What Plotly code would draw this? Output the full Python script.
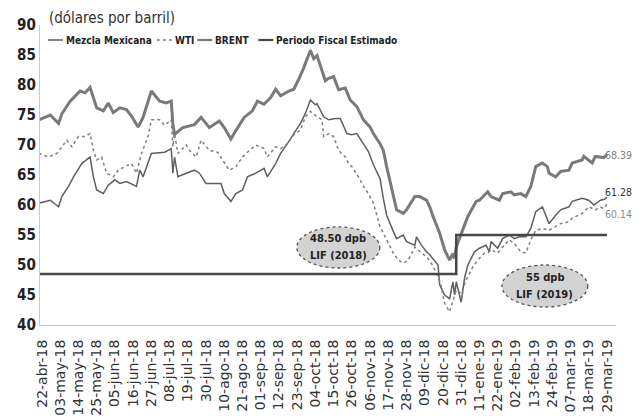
import plotly.graph_objects as go

# ---------------- data ----------------
brent_dates = ["2018-04-20","2018-04-24","2018-04-27","2018-05-02","2018-05-04","2018-05-09","2018-05-15","2018-05-18",
 "2018-05-21","2018-05-25","2018-05-29","2018-06-01","2018-06-04","2018-06-08","2018-06-12","2018-06-15","2018-06-19",
 "2018-06-22","2018-06-27","2018-07-02","2018-07-06","2018-07-09","2018-07-10","2018-07-11","2018-07-16","2018-07-23",
 "2018-07-27","2018-08-01","2018-08-07","2018-08-10","2018-08-14","2018-08-17","2018-08-22","2018-08-27","2018-08-30",
 "2018-09-03","2018-09-07","2018-09-10","2018-09-13","2018-09-18","2018-09-21","2018-09-24","2018-09-27","2018-10-01",
 "2018-10-03","2018-10-05","2018-10-10","2018-10-12","2018-10-15","2018-10-18","2018-10-22","2018-10-25","2018-10-29",
 "2018-10-31","2018-11-02","2018-11-06","2018-11-08","2018-11-12","2018-11-14","2018-11-16","2018-11-20","2018-11-22",
 "2018-11-26","2018-11-28","2018-12-03","2018-12-06","2018-12-10","2018-12-12","2018-12-14","2018-12-18","2018-12-21",
 "2018-12-24","2018-12-26","2018-12-27","2018-12-28","2018-12-31","2019-01-04","2019-01-09","2019-01-11","2019-01-16",
 "2019-01-18","2019-01-23","2019-01-25","2019-01-30","2019-02-01","2019-02-05","2019-02-08","2019-02-11","2019-02-14",
 "2019-02-18","2019-02-21","2019-02-22","2019-02-26","2019-03-01","2019-03-06","2019-03-08","2019-03-14","2019-03-15",
 "2019-03-20","2019-03-22","2019-03-27","2019-03-29"]
brent_values = [74.2,74.7,75.0,73.6,75.2,77.3,79.0,78.7,
 79.6,76.2,75.7,77.0,75.4,76.2,75.9,74.8,73.0,
 74.6,79.0,77.3,77.0,77.3,73.4,71.8,72.9,73.4,
 74.6,72.9,74.0,72.9,71.0,72.4,74.6,75.7,77.3,
 76.8,77.9,79.3,78.2,79.0,79.3,81.0,82.9,85.8,
 84.4,84.9,80.7,81.1,81.4,79.2,79.5,77.5,76.4,
 75.3,74.2,73.0,71.9,70.2,69.1,66.4,61.9,59.2,
 58.6,59.2,61.4,61.4,60.8,59.7,58.1,55.3,52.5,
 50.8,51.9,51.1,53.0,55.3,58.1,60.6,60.8,62.2,
 61.4,60.8,61.9,62.2,61.7,61.9,61.4,63.1,66.4,
 67.0,66.4,65.3,64.7,65.6,65.8,67.0,67.5,68.1,
 67.0,68.1,67.9,68.39]

wti_dates = ["2018-04-20","2018-04-26","2018-05-01","2018-05-04","2018-05-07","2018-05-10","2018-05-14","2018-05-18",
 "2018-05-21","2018-05-23","2018-05-25","2018-05-28","2018-05-31","2018-06-04","2018-06-07","2018-06-11","2018-06-15",
 "2018-06-18","2018-06-21","2018-06-25","2018-06-27","2018-07-02","2018-07-05","2018-07-09","2018-07-10","2018-07-11",
 "2018-07-13","2018-07-18","2018-07-20","2018-07-24","2018-07-27","2018-08-01","2018-08-06","2018-08-09","2018-08-13",
 "2018-08-17","2018-08-21","2018-08-24","2018-08-29","2018-09-03","2018-09-05","2018-09-10","2018-09-13","2018-09-17",
 "2018-09-21","2018-09-25","2018-09-28","2018-10-01","2018-10-05","2018-10-08","2018-10-09","2018-10-12","2018-10-15",
 "2018-10-18","2018-10-22","2018-10-24","2018-10-26","2018-10-30","2018-11-02","2018-11-05","2018-11-08","2018-11-12",
 "2018-11-14","2018-11-16","2018-11-20","2018-11-23","2018-11-26","2018-11-29","2018-12-03","2018-12-07","2018-12-10",
 "2018-12-13","2018-12-17","2018-12-19","2018-12-21","2018-12-24","2018-12-26","2018-12-28","2018-12-31","2019-01-03",
 "2019-01-07","2019-01-10","2019-01-14","2019-01-16","2019-01-18","2019-01-22","2019-01-25","2019-01-29","2019-02-01",
 "2019-02-05","2019-02-08","2019-02-11","2019-02-14","2019-02-18","2019-02-22","2019-02-26","2019-03-01","2019-03-06",
 "2019-03-08","2019-03-14","2019-03-18","2019-03-22","2019-03-25","2019-03-27","2019-03-29"]
wti_values = [68.6,68.0,68.6,69.7,70.8,69.7,71.4,71.4,
 71.9,69.1,67.5,68.0,65.3,64.7,65.8,66.4,66.9,
 65.3,68.6,71.4,74.2,74.2,73.3,74.2,69.7,71.9,
 68.6,70.0,69.1,68.0,70.8,69.1,68.8,67.5,65.8,
 66.4,68.0,68.8,70.0,69.4,68.0,69.7,69.4,70.2,
 71.7,72.5,74.7,75.6,74.7,74.2,71.4,71.9,71.4,
 69.1,68.0,66.9,66.4,64.7,63.1,61.9,60.3,56.4,
 55.3,54.2,52.0,50.8,50.3,50.8,53.0,52.0,51.4,
 50.3,48.1,46.4,43.6,42.2,44.2,45.8,45.3,47.5,
 49.7,50.8,52.0,52.0,52.5,52.0,53.0,54.2,53.6,
 52.2,52.0,54.2,55.8,56.1,55.8,56.4,56.9,57.2,
 57.8,58.6,59.7,59.2,59.7,59.4,60.14]

mezcla_dates = ["2018-04-20","2018-04-24","2018-04-27","2018-05-02","2018-05-04","2018-05-08","2018-05-11","2018-05-16",
 "2018-05-21","2018-05-23","2018-05-25","2018-05-29","2018-06-01","2018-06-05","2018-06-08","2018-06-12","2018-06-18",
 "2018-06-20","2018-06-22","2018-06-27","2018-07-02","2018-07-05","2018-07-09","2018-07-10","2018-07-11","2018-07-13",
 "2018-07-18","2018-07-23","2018-07-26","2018-07-30","2018-08-03","2018-08-08","2018-08-10","2018-08-14","2018-08-17",
 "2018-08-21","2018-08-24","2018-08-29","2018-09-03","2018-09-05","2018-09-10","2018-09-13","2018-09-17","2018-09-21",
 "2018-09-25","2018-09-28","2018-10-01","2018-10-04","2018-10-05","2018-10-09","2018-10-12","2018-10-16","2018-10-19",
 "2018-10-23","2018-10-26","2018-10-29","2018-11-01","2018-11-05","2018-11-08","2018-11-12","2018-11-14","2018-11-16",
 "2018-11-20","2018-11-22","2018-11-26","2018-11-28","2018-12-03","2018-12-04","2018-12-07","2018-12-10","2018-12-12",
 "2018-12-17","2018-12-18","2018-12-21","2018-12-24","2018-12-26","2018-12-27","2018-12-28","2018-12-31","2019-01-02",
 "2019-01-04","2019-01-08","2019-01-11","2019-01-15","2019-01-17","2019-01-18","2019-01-22","2019-01-25","2019-01-29",
 "2019-02-01","2019-02-04","2019-02-08","2019-02-11","2019-02-14","2019-02-18","2019-02-21","2019-02-22","2019-02-26",
 "2019-03-01","2019-03-06","2019-03-08","2019-03-14","2019-03-18","2019-03-21","2019-03-25","2019-03-27","2019-03-29"]
mezcla_values = [60.3,60.6,60.8,59.7,61.4,63.1,64.7,66.9,
 68.0,64.7,62.5,61.9,63.3,64.2,63.6,63.9,63.1,
 65.8,64.7,68.6,68.8,68.8,69.4,65.3,68.0,64.7,
 65.3,65.8,65.3,63.6,63.6,63.6,61.9,60.6,61.9,
 62.5,64.7,65.3,66.1,64.7,66.9,68.6,70.2,71.9,
 73.6,75.3,77.5,76.7,76.9,74.7,74.2,74.4,74.4,
 71.9,71.7,71.9,70.6,68.9,66.7,64.4,61.1,58.3,
 55.6,54.4,55.0,53.9,53.3,54.7,53.3,52.2,51.7,
 50.0,46.7,45.0,44.4,47.2,45.0,47.2,43.8,47.8,
 50.0,52.2,52.8,53.3,52.2,53.9,52.8,54.4,55.0,
 54.4,54.7,54.7,56.1,58.9,59.7,57.8,56.9,58.3,
 59.2,59.7,60.6,61.1,60.8,60.0,60.8,60.9,61.28]

fiscal_dates = ["2018-04-20","2018-12-28","2018-12-28","2019-03-29"]
fiscal_values = [48.5, 48.5, 55.0, 55.0]

tick_dates = ["2018-04-22","2018-05-03","2018-05-14","2018-05-25","2018-06-05","2018-06-16","2018-06-27","2018-07-08",
 "2018-07-19","2018-07-30","2018-08-10","2018-08-21","2018-09-01","2018-09-12","2018-09-23","2018-10-04","2018-10-15",
 "2018-10-26","2018-11-06","2018-11-17","2018-11-28","2018-12-09","2018-12-20","2018-12-31","2019-01-11","2019-01-22",
 "2019-02-02","2019-02-13","2019-02-24","2019-03-07","2019-03-18","2019-03-29"]
tick_labels = ["22-abr-18","03-may-18","14-may-18","25-may-18","05-jun-18","16-jun-18","27-jun-18","08-jul-18",
 "19-jul-18","30-jul-18","10-ago-18","21-ago-18","01-sep-18","12-sep-18","23-sep-18","04-oct-18","15-oct-18",
 "26-oct-18","06-nov-18","17-nov-18","28-nov-18","09-dic-18","20-dic-18","31-dic-18","11-ene-19","22-ene-19",
 "02-feb-19","13-feb-19","24-feb-19","07-mar-19","18-mar-19","29-mar-19"]

series_names = ["Mezcla Mexicana", "WTI", "BRENT", "Periodo Fiscal Estimado"]

# ---------------- styles ----------------
COND = "DejaVu Sans Condensed, Liberation Sans Narrow, sans-serif"
styles = {
    "Mezcla Mexicana": dict(color="#5f5f5f", width=1.5),
    "WTI": dict(color="#7f7f7f", width=1.5, dash="dot"),
    "BRENT": dict(color="#7a7a7a", width=3),
    "Periodo Fiscal Estimado": dict(color="#474747", width=2.5),
}

fig = go.Figure()
for name, xs, ys in [("Mezcla Mexicana", mezcla_dates, mezcla_values), ("WTI", wti_dates, wti_values),
                     ("BRENT", brent_dates, brent_values), ("Periodo Fiscal Estimado", fiscal_dates, fiscal_values)]:
    fig.add_trace(go.Scatter(x=xs, y=ys, mode="lines", name=name, line=styles[name], showlegend=False))

# compact legend (short line samples like the original)
legend_pos = {"Mezcla Mexicana": 0.014, "WTI": 0.203, "BRENT": 0.273, "Periodo Fiscal Estimado": 0.379}
LEG_Y = 0.95
for name in series_names:
    x0 = legend_pos[name]
    st = dict(styles[name])
    st["width"] = min(st["width"], 2.2)
    fig.add_shape(type="line", xref="paper", yref="paper", x0=x0, x1=x0 + 0.026, y0=LEG_Y, y1=LEG_Y, line=st)
    fig.add_annotation(xref="paper", yref="paper", x=x0 + 0.028, y=LEG_Y, text=name, showarrow=False,
                       xanchor="left", yanchor="middle",
                       font=dict(family=COND, size=10, color="#222222", weight="bold"))

# end labels
for series_x, series_y, col, ysh in [(brent_dates, brent_values, "#7f7f7f", 0),
                                     (mezcla_dates, mezcla_values, "#333333", 5),
                                     (wti_dates, wti_values, "#8c8c8c", -10)]:
    fig.add_annotation(x=series_x[-1], y=series_y[-1], text=f"{series_y[-1]:.2f}", showarrow=False,
                       xanchor="left", yanchor="middle", xshift=-3, yshift=ysh, borderpad=0,
                       font=dict(family=COND, size=10.5, color=col))

# ellipses with labels
ellipses = [dict(x0=0.446, x1=0.590, y0=0.19, y1=0.327, l1="48.50 dpb", l2="LIF (2018)"),
            dict(x0=0.802, x1=0.951, y0=0.06, y1=0.20, l1="55 dpb", l2="LIF (2019)")]
for e in ellipses:
    fig.add_shape(type="circle", xref="paper", yref="paper", x0=e["x0"], x1=e["x1"], y0=e["y0"], y1=e["y1"],
                  fillcolor="#d3d3d3", line=dict(color="#555555", width=1.3, dash="dot"), layer="above")
    cx = (e["x0"] + e["x1"]) / 2
    cy = (e["y0"] + e["y1"]) / 2
    fig.add_annotation(xref="paper", yref="paper", x=cx, y=cy, yshift=9, text=e["l1"], showarrow=False,
                       xanchor="center", yanchor="middle",
                       font=dict(family=COND, size=11, color="#222222", weight="bold"))
    fig.add_annotation(xref="paper", yref="paper", x=cx, y=cy, yshift=-8, text=e["l2"], showarrow=False,
                       xanchor="center", yanchor="middle",
                       font=dict(family=COND, size=11, color="#222222", weight="bold"))

fig.add_annotation(xref="paper", yref="paper", x=0.012, y=1.023, text="(dólares por barril)", showarrow=False,
                   xanchor="left", yanchor="middle", font=dict(family=COND, size=15, color="#333333"))

# page body has an 8px margin: figure is offset by 8px right/down
fig.update_layout(
    width=633, height=412,
    margin=dict(l=32, r=25, t=17, b=95, autoexpand=False),
    paper_bgcolor="white", plot_bgcolor="white",
    showlegend=False,
    xaxis=dict(type="date", range=["2018-04-20 19:00", "2019-04-03 10:00"], tickvals=tick_dates,
               ticktext=tick_labels, tickangle=-90, showgrid=False, showline=True, linecolor="#c8c8c8",
               linewidth=1.2, ticks="", zeroline=False, ticklabelstandoff=8,
               tickfont=dict(family="DejaVu Sans, sans-serif", size=14, color="#333333")),
    yaxis=dict(range=[40, 90], dtick=5, tick0=40, showgrid=False, showline=True, linecolor="#c8c8c8",
               linewidth=1.2, ticks="", zeroline=False,
               tickfont=dict(family=COND, size=15, color="#222222", weight="bold")),
)

fig.write_html("out.html")
